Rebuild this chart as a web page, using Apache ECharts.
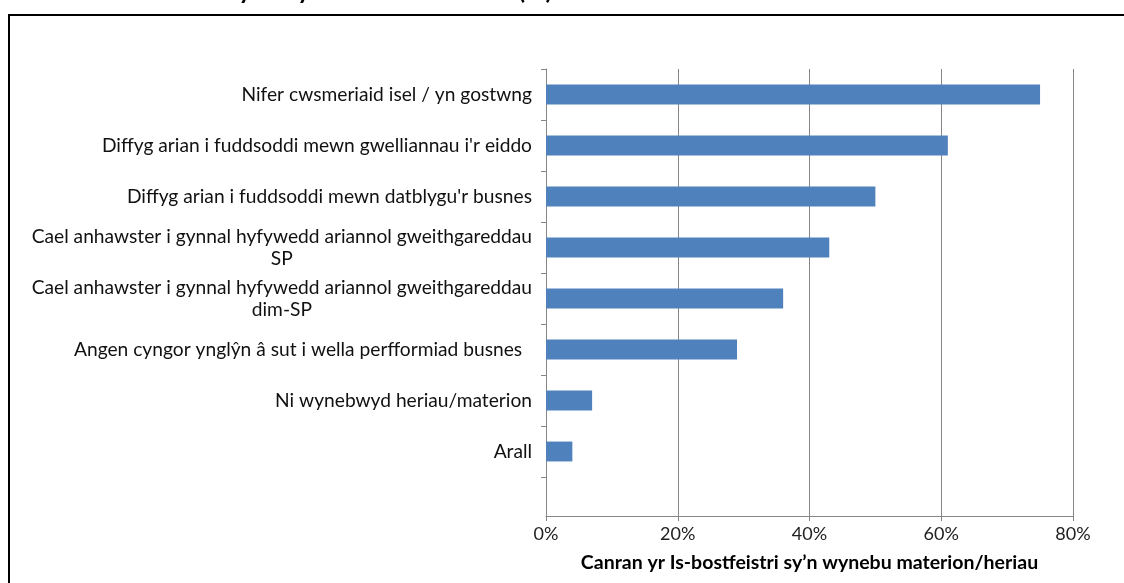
<!DOCTYPE html>
<html>
<head>
<meta charset="utf-8">
<script src="https://cdn.jsdelivr.net/npm/echarts@6/dist/echarts.min.js"></script>
<style>
  html, body { margin: 0; padding: 0; background: #fff; overflow: hidden; }
  #frame { position: absolute; left: 8px; top: 14px; width: 1130px; height: 600px; border: 2px solid #000; box-sizing: border-box; }
  #chart { position: absolute; left: 0; top: 0; width: 1124px; height: 583px; }
</style>
</head>
<body>
<div id="frame"></div>
<div id="chart"></div>
<script>
// Data (top-to-bottom order as in the chart)
const categories = [
  "Nifer cwsmeriaid isel / yn gostwng",
  "Diffyg arian i fuddsoddi mewn gwelliannau i'r eiddo",
  "Diffyg arian i fuddsoddi mewn datblygu'r busnes",
  "Cael anhawster i gynnal hyfywedd ariannol gweithgareddau\nSP",
  "Cael anhawster i gynnal hyfywedd ariannol gweithgareddau\ndim-SP",
  "Angen cyngor ynglŷn â sut i wella perfformiad busnes  ",
  "Ni wynebwyd heriau/materion",
  "Arall"
];
const values = [75, 61, 50, 43, 36, 29, 7, 4];
const xTicks = [0, 20, 40, 60, 80];
const xAxisTitle = "Canran yr Is-bostfeistri sy’n wynebu materion/heriau";
const chartTitle = "Heriau/materion sy'n wynebu Is-bostfeistri (%)";

const chart = echarts.init(document.getElementById('chart'), null, { renderer: 'canvas' });
const FONT = 'Lato, "Open Sans", sans-serif';
const GRID = '#868686';

const xBase = {
  type: 'value', min: xTicks[0], max: xTicks[xTicks.length - 1], interval: 20,
  splitLine: { show: true, lineStyle: { color: GRID, width: 1 } }
};

chart.setOption({
  animation: false,
  backgroundColor: 'transparent',
  graphic: [{
    type: 'text', left: 36, top: -22,
    style: { text: chartTitle, font: 'bold 25px ' + FONT, fill: '#000' }
  }],
  grid: [
    { left: 546, right: 51, top: 69, height: 408 },
    { left: 546, right: 51, top: 477, height: 39 }
  ],
  xAxis: [
    Object.assign({}, xBase, {
      gridIndex: 0,
      axisLine: { show: false }, axisTick: { show: false }, axisLabel: { show: false }
    }),
    Object.assign({}, xBase, {
      gridIndex: 1,
      axisLine: { show: true, lineStyle: { color: GRID, width: 1 } },
      axisTick: { show: true, length: 5, lineStyle: { color: GRID } },
      axisLabel: { formatter: v => v + '%', color: '#222', fontFamily: FONT, fontSize: 18, margin: 9 },
      name: xAxisTitle, nameLocation: 'middle', nameGap: 37,
      nameTextStyle: { fontFamily: FONT, fontWeight: 'bold', fontSize: 19.5, color: '#000' }
    })
  ],
  yAxis: [
    {
      gridIndex: 0, type: 'category', inverse: true, data: categories,
      axisLine: { show: true, lineStyle: { color: GRID, width: 1 } },
      axisTick: { show: true, length: 5, lineStyle: { color: GRID } },
      axisLabel: {
        margin: 14, color: '#111', fontFamily: FONT, fontSize: 19.2, lineHeight: 22,
        formatter: v => v.split('\n').map(l => '{c|' + l + '}').join('\n'),
        rich: { c: { align: 'center', fontFamily: FONT, fontSize: 19.2, lineHeight: 22, color: '#111' } }
      }
    },
    {
      gridIndex: 1, type: 'value', min: 0, max: 1,
      axisLine: { show: true, lineStyle: { color: GRID, width: 1 } },
      axisTick: { show: false }, axisLabel: { show: false }, splitLine: { show: false }
    }
  ],
  series: [{
    type: 'bar', xAxisIndex: 0, yAxisIndex: 0, data: values, barWidth: '39%',
    itemStyle: { color: '#4F81BD' }
  }]
});
</script>
</body>
</html>
